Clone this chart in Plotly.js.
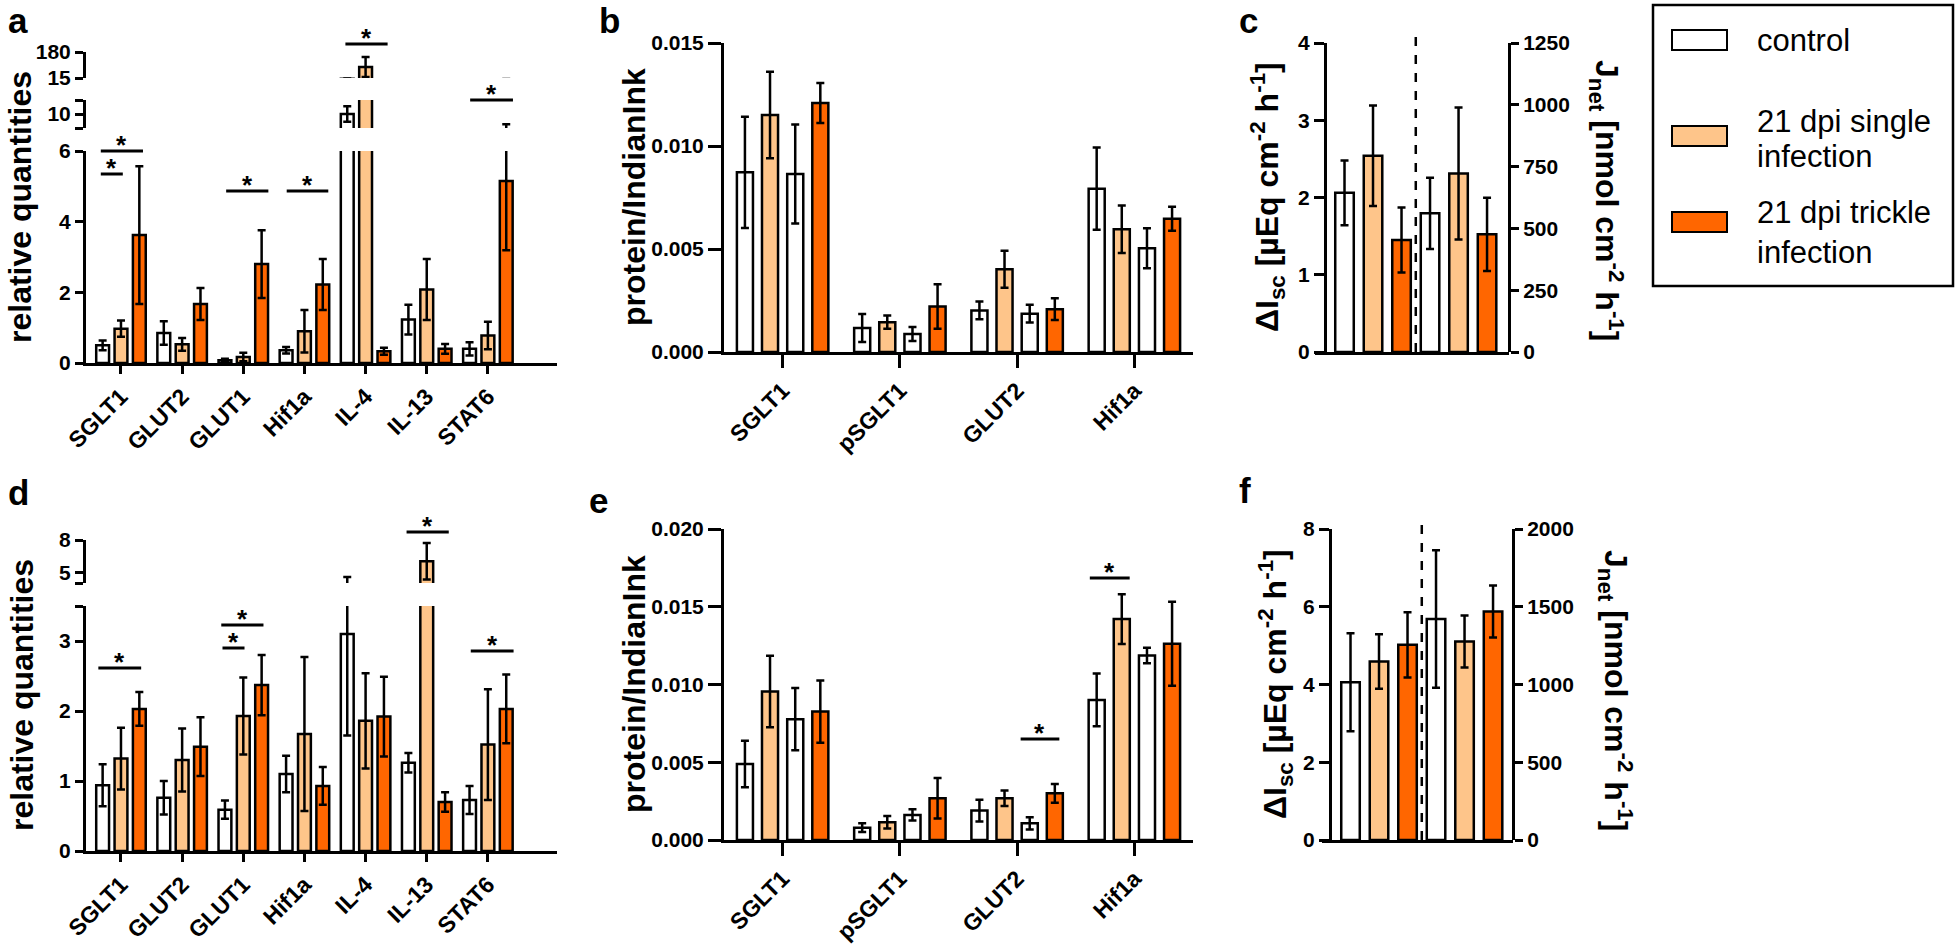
<!DOCTYPE html>
<html>
<head>
<meta charset="utf-8">
<script src="https://cdn.plot.ly/plotly-3.0.1.min.js"></script>
<style>
  html, body { margin: 0; padding: 0; background: #fff; }
  #chart { width: 1956px; height: 950px; }
</style>
</head>
<body>
<div id="chart"></div>
<script>
// group colours
const WHITE = '#ffffff';
const LIGHT = '#fec58a';
const ORANGE = '#ff6600';

// a + d: relative quantities (qPCR)
const genes = ['SGLT1', 'GLUT2', 'GLUT1', 'Hif1a', 'IL-4', 'IL-13', 'STAT6'];

const aControl = [0.50, 0.85, 0.08, 0.36, 10.0, 1.23, 0.40];
const aControlErr = [0.14, 0.33, 0.04, 0.09, 1.1, 0.42, 0.19];
const aSingle = [0.97, 0.53, 0.17, 0.90, 85, 2.08, 0.78];
const aSingleErr = [0.23, 0.18, 0.12, 0.60, 63, 0.86, 0.39];
const aTrickle = [3.62, 1.67, 2.80, 2.22, 0.33, 0.40, 5.15];
const aTrickleErrUp = [1.95, 0.45, 0.96, 0.72, 0.10, 0.14, 3.40];
const aTrickleErrDown = [1.95, 0.45, 0.96, 0.72, 0.10, 0.14, 1.96];

const dControl = [0.94, 0.76, 0.59, 1.10, 3.10, 1.26, 0.73];
const dControlErr = [0.30, 0.24, 0.13, 0.26, 1.45, 0.14, 0.20];
const dSingle = [1.32, 1.30, 1.93, 1.67, 1.86, 6.03, 1.52];
const dSingleErr = [0.44, 0.45, 0.55, 1.10, 0.68, 1.70, 0.79];
const dTrickle = [2.03, 1.49, 2.37, 0.93, 1.92, 0.70, 2.03];
const dTrickleErr = [0.24, 0.42, 0.43, 0.27, 0.57, 0.14, 0.49];

// b + e: protein / IndianInk (western blot)
const proteins = ['SGLT1', 'pSGLT1', 'GLUT2', 'Hif1a'];

const bControl1 = [0.00872, 0.00116, 0.00202, 0.00793];
const bControl1Err = [0.0027, 0.00068, 0.00043, 0.0020];
const bSingle = [0.0115, 0.00145, 0.00402, 0.00596];
const bSingleErr = [0.0021, 0.00032, 0.0009, 0.00115];
const bControl2 = [0.00864, 0.00087, 0.00186, 0.00504];
const bControl2Err = [0.0024, 0.00034, 0.00043, 0.00097];
const bTrickle = [0.01209, 0.00221, 0.00208, 0.00647];
const bTrickleErr = [0.00097, 0.00108, 0.00053, 0.00058];

const eControl1 = [0.00489, 0.00079, 0.00189, 0.00901];
const eControl1Err = [0.0015, 0.00028, 0.0007, 0.0017];
const eSingle = [0.00955, 0.00114, 0.00268, 0.01421];
const eSingleErr = [0.0023, 0.0004, 0.0005, 0.0016];
const eControl2 = [0.00777, 0.00161, 0.00107, 0.01187];
const eControl2Err = [0.0020, 0.00036, 0.0004, 0.0005];
const eTrickle = [0.00826, 0.00268, 0.0030, 0.01262];
const eTrickleErr = [0.0020, 0.0013, 0.0006, 0.0027];

// c + f: Ussing chamber, left ΔIsc bars, right Jnet bars
const cIsc = [2.06, 2.54, 1.45];
const cIscErr = [0.42, 0.65, 0.42];
const cJnet = [561, 722, 476];
const cJnetErr = [144, 267, 148];

const fIsc = [4.06, 4.59, 5.02];
const fIscErr = [1.26, 0.70, 0.84];
const fJnet = [1421, 1277, 1470];
const fJnetErr = [442, 167, 167];

const groupColors = [WHITE, LIGHT, ORANGE];
const legendLines = [['control'], ['21 dpi single', 'infection'], ['21 dpi trickle', 'infection']];

// --- layout helpers: figure is laid out in pixels of the 1956x950 page
const W = 1956, H = 950;
const px = v => v / W;
const py = v => 1 - v / H;
const FONT = 'Liberation Sans, Arial, Helvetica, sans-serif';

function bar(x, y, err, color, xa, ya, width, offset, errMinus) {
  const e = { type: 'data', array: err, visible: true, color: 'black', thickness: 2.5, width: 4 };
  if (errMinus) { e.symmetric = false; e.arrayminus = errMinus; }
  return {
    type: 'bar', x: x, y: y, xaxis: xa, yaxis: ya,
    width: width, offset: offset,
    marker: { color: color, line: { color: 'black', width: 2.5 } },
    error_y: e, showlegend: false, hoverinfo: 'skip'
  };
}

function yAxis(extra) {
  return Object.assign({
    showline: true, linecolor: 'black', linewidth: 3,
    ticks: 'outside', tickwidth: 3, ticklen: 8, tickcolor: 'black',
    showgrid: false, zeroline: false, fixedrange: true,
    tickfont: { family: FONT, size: 21, weight: 'bold', color: 'black' }
  }, extra);
}

function catAxis(extra) {
  return Object.assign({
    type: 'category', showline: true, linecolor: 'black', linewidth: 3,
    ticks: 'outside', tickwidth: 3, ticklen: 8, tickcolor: 'black',
    showgrid: false, zeroline: false, fixedrange: true, tickangle: -45,
    tickfont: { family: FONT, size: 23, weight: 'bold', color: 'black' }
  }, extra);
}

function plainX(extra) {
  return Object.assign({
    showline: true, linecolor: 'black', linewidth: 3, ticks: '',
    showticklabels: false, showgrid: false, zeroline: false, fixedrange: true
  }, extra);
}

const traces = [];

// a: three stacked segments of a broken axis
const W3 = 0.21, OFF3 = [-0.405, -0.105, 0.195];
['y', 'y2', 'y3'].forEach(ya => {
  traces.push(bar(genes, aControl, aControlErr, WHITE, 'x', ya, W3, OFF3[0]));
  traces.push(bar(genes, aSingle, aSingleErr, LIGHT, 'x', ya, W3, OFF3[1]));
  traces.push(bar(genes, aTrickle, aTrickleErrUp, ORANGE, 'x', ya, W3, OFF3[2], aTrickleErrDown));
});

// d: two segments
['y7', 'y8'].forEach(ya => {
  traces.push(bar(genes, dControl, dControlErr, WHITE, 'x4', ya, W3, OFF3[0]));
  traces.push(bar(genes, dSingle, dSingleErr, LIGHT, 'x4', ya, W3, OFF3[1]));
  traces.push(bar(genes, dTrickle, dTrickleErr, ORANGE, 'x4', ya, W3, OFF3[2]));
});

// b, e: four bars per protein
const W4 = 0.137, OFF4 = [-0.39, -0.176, 0.039, 0.253];
[[bControl1, bControl1Err, bSingle, bSingleErr, bControl2, bControl2Err, bTrickle, bTrickleErr, 'x2', 'y4'],
 [eControl1, eControl1Err, eSingle, eSingleErr, eControl2, eControl2Err, eTrickle, eTrickleErr, 'x5', 'y9']]
  .forEach(p => {
    traces.push(bar(proteins, p[0], p[1], WHITE, p[8], p[9], W4, OFF4[0]));
    traces.push(bar(proteins, p[2], p[3], LIGHT, p[8], p[9], W4, OFF4[1]));
    traces.push(bar(proteins, p[4], p[5], WHITE, p[8], p[9], W4, OFF4[2]));
    traces.push(bar(proteins, p[6], p[7], ORANGE, p[8], p[9], W4, OFF4[3]));
  });

// c, f: left axis bars at 0..2, right axis bars at 3..5
const W6 = 0.65;
traces.push(bar(cIsc.map((_, i) => i), cIsc, cIscErr, groupColors, 'x3', 'y5', W6, -W6 / 2));
traces.push(bar(cJnet.map((_, i) => i + 3), cJnet, cJnetErr, groupColors, 'x3', 'y6', W6, -W6 / 2));
traces.push(bar(fIsc.map((_, i) => i), fIsc, fIscErr, groupColors, 'x6', 'y10', W6, -W6 / 2));
traces.push(bar(fJnet.map((_, i) => i + 3), fJnet, fJnetErr, groupColors, 'x6', 'y11', W6, -W6 / 2));

// significance brackets: [category, dx0, dx1, y in page px]
const aSig = [[0, -0.33, 0.03, 174], [0, -0.33, 0.36, 151], [2, -0.28, 0.41, 191],
              [3, -0.29, 0.39, 191], [4, -0.33, 0.36, 44], [6, -0.29, 0.41, 100]];
const dSig = [[0, -0.37, 0.33, 668], [2, -0.34, 0.02, 648], [2, -0.36, 0.33, 625],
              [5, -0.33, 0.36, 532], [6, -0.28, 0.42, 651]];
const eSig = [[2, 0.03, 0.36, 739], [3, -0.38, -0.04, 578]];

const shapes = [];
const annotations = [];

function addSig(list, xref) {
  list.forEach(s => {
    shapes.push({ type: 'line', xref: xref, yref: 'paper', x0: s[0] + s[1], x1: s[0] + s[2],
      y0: py(s[3]), y1: py(s[3]), line: { color: 'black', width: 3 } });
    annotations.push({ xref: xref, yref: 'paper', x: s[0] + (s[1] + s[2]) / 2, y: py(s[3] - 6),
      text: '*', showarrow: false, yanchor: 'middle',
      font: { family: FONT, size: 26, weight: 'bold', color: 'black' } });
  });
}
addSig(aSig, 'x');
addSig(dSig, 'x4');
addSig(eSig, 'x5');

// dashed separators between ΔIsc and Jnet
shapes.push({ type: 'line', xref: 'x3', yref: 'paper', x0: 2.5, x1: 2.5, y0: py(352), y1: py(33),
  line: { color: 'black', width: 2.5, dash: 'dash' } });
shapes.push({ type: 'line', xref: 'x6', yref: 'paper', x0: 2.5, x1: 2.5, y0: py(840), y1: py(525),
  line: { color: 'black', width: 2.5, dash: 'dash' } });

// axis titles
const titleFont = { family: FONT, size: 32, weight: 'bold', color: 'black' };
const isc = 'ΔI<sub>sc</sub> [µEq cm<sup>-2</sup> h<sup>-1</sup>]';
const jnet = 'J<sub>net</sub> [nmol cm<sup>-2</sup> h<sup>-1</sup>]';
[[20, 207, 'relative quantities', -90], [22, 695, 'relative quantities', -90],
 [634, 197, 'protein/IndianInk', -90], [634, 684, 'protein/IndianInk', -90],
 [1267, 197, isc, -90], [1275, 684, isc, -90],
 [1607, 200, jnet, 90], [1616, 690, jnet, 90]].forEach(t => {
  annotations.push({ xref: 'paper', yref: 'paper', x: px(t[0]), y: py(t[1]), text: t[2],
    textangle: t[3], showarrow: false, xanchor: 'center', yanchor: 'middle', font: titleFont });
});

// panel letters
[['a', 7, 0], ['b', 598, 0], ['c', 1238, 0], ['d', 7, 472], ['e', 588, 480], ['f', 1238, 470]]
  .forEach(l => {
    annotations.push({ xref: 'paper', yref: 'paper', x: px(l[1]), y: py(l[2]), text: l[0],
      showarrow: false, xanchor: 'left', yanchor: 'top', borderpad: 0,
      font: { family: FONT, size: 35, weight: 'bold', color: 'black' } });
  });

// legend box
shapes.push({ type: 'rect', xref: 'paper', yref: 'paper', x0: px(1653), x1: px(1953), y0: py(286), y1: py(5),
  line: { color: 'black', width: 2.5 }, fillcolor: 'rgba(0,0,0,0)' });
const swatchY = [40, 136, 222];
const textY = [[40], [121, 157], [213, 252]];
groupColors.forEach((c, i) => {
  shapes.push({ type: 'rect', xref: 'paper', yref: 'paper', x0: px(1672), x1: px(1727),
    y0: py(swatchY[i] + 10), y1: py(swatchY[i] - 10), fillcolor: c, line: { color: 'black', width: 2 } });
  legendLines[i].forEach((txt, k) => {
    annotations.push({ xref: 'paper', yref: 'paper', x: px(1755), y: py(textY[i][k]), text: txt,
      showarrow: false, xanchor: 'left', yanchor: 'middle',
      font: { family: FONT, size: 31, color: 'black' } });
  });
});

const layout = {
  width: W, height: H, margin: { l: 0, r: 0, t: 0, b: 0 },
  paper_bgcolor: 'white', plot_bgcolor: 'rgba(0,0,0,0)',
  barmode: 'overlay', showlegend: false,

  // a
  xaxis: catAxis({ domain: [px(86), px(557)], range: [-0.572, 7.13], anchor: 'y' }),
  yaxis: yAxis({ domain: [py(363), py(151)], range: [0, 6], tickvals: [0, 2, 4, 6], anchor: 'x' }),
  yaxis2: yAxis({ domain: [py(128), py(100)], range: [8, 12], tickvals: [8, 10, 12],
    ticktext: ['', '10', ''], anchor: 'x' }),
  yaxis3: yAxis({ domain: [py(78), py(52)], range: [15, 180], tickvals: [15, 180], anchor: 'x' }),

  // b
  xaxis2: catAxis({ domain: [px(724), px(1193)], range: [-0.5, 3.5], anchor: 'y4', ticklen: 13 }),
  yaxis4: yAxis({ domain: [py(352), py(43)], range: [0, 0.015], dtick: 0.005, tickformat: '.3f',
    ticklen: 13, anchor: 'x2' }),

  // c
  xaxis3: plainX({ domain: [px(1315), px(1509)], range: [-1.035, 5.77], anchor: 'y5' }),
  yaxis5: yAxis({ domain: [py(352), py(43)], range: [0, 4], dtick: 1, ticklen: 10,
    anchor: 'free', position: px(1325) }),
  yaxis6: yAxis({ range: [0, 1250], dtick: 250, overlaying: 'y5', side: 'right',
    anchor: 'free', position: px(1509) }),

  // d
  xaxis4: catAxis({ domain: [px(86), px(557)], range: [-0.572, 7.13], anchor: 'y7' }),
  yaxis7: yAxis({ domain: [py(851), py(606)], range: [0, 3.5], tickvals: [0, 1, 2, 3, 3.5],
    ticktext: ['0', '1', '2', '3', ''], anchor: 'x4' }),
  yaxis8: yAxis({ domain: [py(583), py(540)], range: [4, 8], tickvals: [4, 5, 8],
    ticktext: ['', '5', '8'], anchor: 'x4' }),

  // e
  xaxis5: catAxis({ domain: [px(724), px(1193)], range: [-0.5, 3.5], anchor: 'y9', ticklen: 13 }),
  yaxis9: yAxis({ domain: [py(840), py(529)], range: [0, 0.02], dtick: 0.005, tickformat: '.3f',
    ticklen: 13, anchor: 'x5' }),

  // f
  xaxis6: plainX({ domain: [px(1322), px(1513)], range: [-1.0, 5.70], anchor: 'y10' }),
  yaxis10: yAxis({ domain: [py(840), py(529)], range: [0, 8], dtick: 2, ticklen: 10,
    anchor: 'free', position: px(1330) }),
  yaxis11: yAxis({ range: [0, 2000], dtick: 500, overlaying: 'y10', side: 'right',
    anchor: 'free', position: px(1513) }),

  shapes: shapes,
  annotations: annotations
};

Plotly.newPlot('chart', traces, layout, { staticPlot: true, displayModeBar: false });
</script>
</body>
</html>
